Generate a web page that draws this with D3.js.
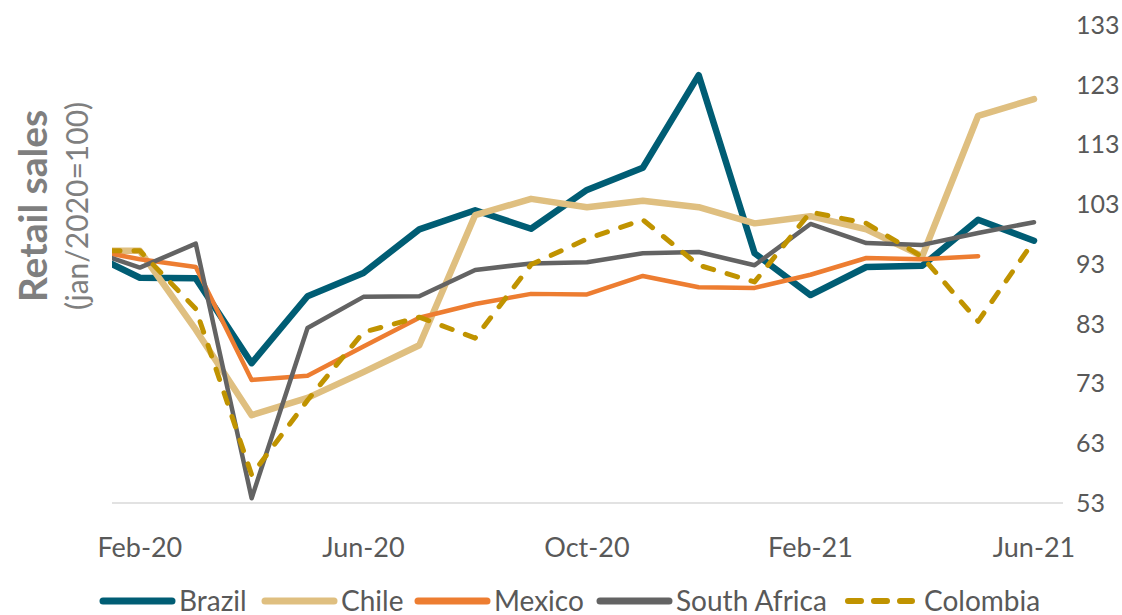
<!doctype html>
<html>
<head>
  <meta charset="utf-8">
  <title>Retail sales</title>
  <script src="https://d3js.org/d3.v7.min.js"></script>
  <style>
    body { margin:0; background:#fff; }
    svg { display:block; font-family:Lato, "Open Sans", sans-serif; }
    .tick-label { fill:#595959; font-size:25px; }
    .x-label { fill:#595959; font-size:27px; }
    .legend-label { fill:#595959; font-size:28px; }
  </style>
</head>
<body>
  <svg id="chart" width="1122" height="615"></svg>

  <script>
    // Jan-20 is kept only so the lines run in from the left edge (it is clipped)
    const months = ["Jan-20","Feb-20","Mar-20","Apr-20","May-20","Jun-20","Jul-20","Aug-20","Sep-20",
                    "Oct-20","Nov-20","Dec-20","Jan-21","Feb-21","Mar-21","Apr-21","May-21","Jun-21"];
    const xTicks = ["Feb-20","Jun-20","Oct-20","Feb-21","Jun-21"];
    const yTicks = [53,63,73,83,93,103,113,123,133];

    const brazil      = [95.3,90.7,90.6,76.4,87.6,91.5,98.8,102.0,98.9,105.4,109.1,124.6,94.8,87.8,92.5,92.7,100.4,96.9];
    const chile       = [95.2,95.2,82.0,67.7,70.6,74.9,79.4,101.2,103.9,102.5,103.6,102.5,99.8,101.0,98.8,94.3,117.8,120.6];
    const mexico      = [95.6,93.8,92.5,73.6,74.3,79.2,84.0,86.3,88.0,87.9,91.0,89.1,89.0,91.2,94.0,93.8,94.3,null];
    const southAfrica = [95.6,92.4,96.4,53.8,82.3,87.5,87.6,92.0,93.1,93.3,94.8,95.0,92.8,99.7,96.5,96.2,98.2,100.0];
    const colombia    = [95.2,95.2,85.5,57.7,70.2,81.6,84.1,80.6,92.9,97.2,100.4,92.8,90.0,101.7,99.8,94.2,83.4,96.9];

    const series = [
      { name:"Brazil",       values:brazil,      color:"#005d74", width:6.5 },
      { name:"Chile",        values:chile,       color:"#dfbf80", width:6.5 },
      { name:"Mexico",       values:mexico,      color:"#ed7d31", width:4.5 },
      { name:"South Africa", values:southAfrica, color:"#636363", width:4.5 },
      { name:"Colombia",     values:colombia,    color:"#c09300", width:5, dash:"11,14" }
    ];

    const svg = d3.select("#chart");
    const plot = { left:112, right:1063, top:25, bottom:503 };

    const x = d3.scalePoint().domain(months).range([84, 1034]);
    const y = d3.scaleLinear().domain([53,133]).range([plot.bottom, plot.top]);

    svg.append("clipPath").attr("id","clip")
      .append("rect")
      .attr("x",plot.left).attr("y",0)
      .attr("width",plot.right-plot.left).attr("height",615);

    // baseline
    svg.append("line")
      .attr("x1",plot.left).attr("x2",plot.right)
      .attr("y1",y(53)).attr("y2",y(53))
      .attr("stroke","#d9d9d9").attr("stroke-width",1.5);

    // right-hand value labels
    svg.selectAll(".ylab")
      .data(yTicks)
      .enter().append("text")
      .attr("class","tick-label")
      .attr("x",1076)
      .attr("y",d=>y(d))
      .attr("dy","0.35em")
      .text(d=>d);

    // category labels
    svg.selectAll(".xlab")
      .data(xTicks)
      .enter().append("text")
      .attr("class","x-label")
      .attr("x",d=>x(d))
      .attr("y",557)
      .attr("text-anchor","middle")
      .text(d=>d);

    // axis title
    const title = svg.append("g").attr("transform","translate(0,206) rotate(-90)");
    title.append("text")
      .attr("x",0).attr("y",47)
      .attr("text-anchor","middle")
      .attr("fill","#7f7f7f")
      .attr("font-size",39).attr("font-weight","bold")
      .text("Retail sales");
    title.append("text")
      .attr("x",0).attr("y",88)
      .attr("text-anchor","middle")
      .attr("fill","#7f7f7f")
      .attr("font-size",30)
      .text("(jan/2020=100)");

    const line = d3.line()
      .defined(d=>d.v!=null)
      .x(d=>x(d.m))
      .y(d=>y(d.v));

    const lines = svg.append("g").attr("clip-path","url(#clip)");
    series.forEach(s=>{
      lines.append("path")
        .datum(months.map((m,i)=>({m:m, v:s.values[i]})))
        .attr("d",line)
        .attr("fill","none")
        .attr("stroke",s.color)
        .attr("stroke-width",s.width)
        .attr("stroke-linejoin","round")
        .attr("stroke-linecap","round")
        .attr("stroke-dasharray",s.dash||null);
    });

    // legend
    const legendX = [100,262,415,597,845];
    const leg = svg.append("g");
    series.forEach((s,i)=>{
      const g = leg.append("g").attr("transform",`translate(${legendX[i]},601)`);
      g.append("line")
        .attr("x1",3).attr("x2",s.dash?67:72)
        .attr("y1",0).attr("y2",0)
        .attr("stroke",s.color)
        .attr("stroke-width",s.dash?6:7)
        .attr("stroke-linecap","round")
        .attr("stroke-dasharray",s.dash?"13,13":null);
      g.append("text")
        .attr("class","legend-label")
        .attr("x",79)
        .attr("y",0)
        .attr("dy","0.35em")
        .text(s.name);
    });
  </script>
</body>
</html>
